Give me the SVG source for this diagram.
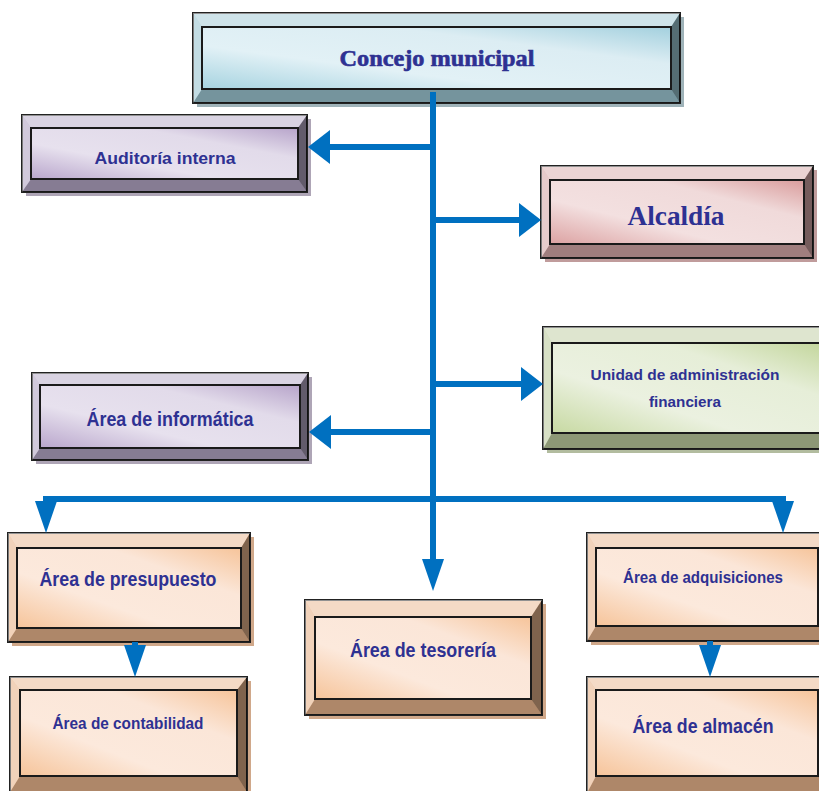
<svg xmlns="http://www.w3.org/2000/svg" width="819" height="791" viewBox="0 0 819 791">
<defs>
<linearGradient id="gBlue" x1="0" y1="1" x2="1" y2="0"><stop offset="0" stop-color="#a6d3e0"/><stop offset="0.35" stop-color="#e2f1f6"/><stop offset="0.7" stop-color="#dcedf3"/><stop offset="1" stop-color="#a3d0de"/></linearGradient>
<linearGradient id="gPurple" x1="0" y1="1" x2="1" y2="0"><stop offset="0" stop-color="#b9a6cc"/><stop offset="0.35" stop-color="#e7e1ee"/><stop offset="0.7" stop-color="#e2dbea"/><stop offset="1" stop-color="#b7a4ca"/></linearGradient>
<linearGradient id="gPink" x1="0" y1="1" x2="1" y2="0"><stop offset="0" stop-color="#dca2a2"/><stop offset="0.35" stop-color="#f3e0e0"/><stop offset="0.7" stop-color="#f0dada"/><stop offset="1" stop-color="#d99c9c"/></linearGradient>
<linearGradient id="gGreen" x1="0" y1="1" x2="1" y2="0"><stop offset="0" stop-color="#c7d9a2"/><stop offset="0.35" stop-color="#ebf1e0"/><stop offset="0.7" stop-color="#e6eed8"/><stop offset="1" stop-color="#c3d69c"/></linearGradient>
<linearGradient id="gPeach" x1="0" y1="1" x2="1" y2="0"><stop offset="0" stop-color="#f6c49a"/><stop offset="0.35" stop-color="#fce9dc"/><stop offset="0.7" stop-color="#fbe6d8"/><stop offset="1" stop-color="#f6c49a"/></linearGradient>
<marker id="arrH" markerUnits="userSpaceOnUse" markerWidth="22" markerHeight="34" refX="0" refY="17" orient="auto"><path d="M0,0 L22,17 L0,34 Z" fill="#0070c0"/></marker>
<marker id="arrV" markerUnits="userSpaceOnUse" markerWidth="32" markerHeight="22" refX="0" refY="11" orient="auto"><path d="M0,0 L32,11 L0,22 Z" fill="#0070c0"/></marker>
</defs>
<style>
.out{stroke:#222;stroke-width:2}
.pan{stroke:#1a1a1a;stroke-width:2}
.tb{fill:#fff;fill-opacity:.5}
.lb{fill:#fff;fill-opacity:.4}
.bb{fill:#000;fill-opacity:.25}
.rb{fill:#000;fill-opacity:.45}
.blue .out{fill:#9cc6d2}.blue .sh{fill:#9fb3b9}.blue .pan{fill:url(#gBlue)}
.purple .out{fill:#b3a6c4}.purple .sh{fill:#aea5b6}.purple .pan{fill:url(#gPurple)}
.pink .out{fill:#d6a8a8}.pink .sh{fill:#c09c9c}.pink .pan{fill:url(#gPink)}
.green .out{fill:#bccb9e}.green .sh{fill:#b2bc9f}.green .pan{fill:url(#gGreen)}
.peach .out{fill:#e8b48c}.peach .sh{fill:#d0a88a}.peach .pan{fill:url(#gPeach)}
.t{fill:#2e3192;font-family:"Liberation Sans",Arial,sans-serif;font-weight:bold;text-anchor:middle}
.ts{fill:#2e3192;font-family:"Liberation Serif","Times New Roman",serif;font-weight:bold;text-anchor:middle}
.con{fill:none;stroke:#0070c0;stroke-width:6;stroke-linejoin:miter}
</style>
<rect width="819" height="791" fill="#fff"/>

<g id="concejo" class="blue">
<rect class="sh" x="197" y="17" width="487" height="90"/>
<rect class="out" x="193" y="13" width="487" height="90"/>
<polygon class="tb" points="193,13 680,13 671,27 202,27"/>
<polygon class="bb" points="193,103 680,103 671,89 202,89"/>
<polygon class="lb" points="193,13 202,27 202,89 193,103"/>
<polygon class="rb" points="680,13 671,27 671,89 680,103"/>
<rect class="pan" x="202" y="27" width="469" height="62"/>
<text class="ts" x="437" y="66" font-size="23" textLength="195" lengthAdjust="spacingAndGlyphs" stroke="#2e3192" stroke-width="0.6">Concejo municipal</text>
</g>

<g id="auditoria" class="purple">
<rect class="sh" x="26" y="119" width="285" height="77"/>
<rect class="out" x="22" y="115" width="285" height="77"/>
<polygon class="tb" points="22,115 307,115 298,128 31,128"/>
<polygon class="bb" points="22,192 307,192 298,179 31,179"/>
<polygon class="lb" points="22,115 31,128 31,179 22,192"/>
<polygon class="rb" points="307,115 298,128 298,179 307,192"/>
<rect class="pan" x="31" y="128" width="267" height="51"/>
<text class="t" x="165" y="164" font-size="16" textLength="141" lengthAdjust="spacingAndGlyphs">Auditoría interna</text>
</g>

<g id="alcaldia" class="pink">
<rect class="sh" x="545" y="170" width="272" height="92"/>
<rect class="out" x="541" y="166" width="272" height="92"/>
<polygon class="tb" points="541,166 813,166 804,180 550,180"/>
<polygon class="bb" points="541,258 813,258 804,244 550,244"/>
<polygon class="lb" points="541,166 550,180 550,244 541,258"/>
<polygon class="rb" points="813,166 804,180 804,244 813,258"/>
<rect class="pan" x="550" y="180" width="254" height="64"/>
<text class="ts" x="676" y="225" font-size="28" textLength="97" lengthAdjust="spacingAndGlyphs">Alcaldía</text>
</g>

<g id="unidad" class="green">
<rect class="sh" x="547" y="331" width="290" height="122"/>
<rect class="out" x="543" y="327" width="290" height="122"/>
<polygon class="tb" points="543,327 833,327 824,343 552,343"/>
<polygon class="bb" points="543,449 833,449 824,433 552,433"/>
<polygon class="lb" points="543,327 552,343 552,433 543,449"/>
<polygon class="rb" points="833,327 824,343 824,433 833,449"/>
<rect class="pan" x="552" y="343" width="272" height="90"/>
<text class="t" x="685" y="380" font-size="15" textLength="189" lengthAdjust="spacingAndGlyphs">Unidad de administración</text>
<text class="t" x="685" y="407" font-size="15" textLength="72" lengthAdjust="spacingAndGlyphs">financiera</text>
</g>

<g id="informatica" class="purple">
<rect class="sh" x="36" y="377" width="276" height="87"/>
<rect class="out" x="32" y="373" width="276" height="87"/>
<polygon class="tb" points="32,373 308,373 300,385 40,385"/>
<polygon class="bb" points="32,460 308,460 300,448 40,448"/>
<polygon class="lb" points="32,373 40,385 40,448 32,460"/>
<polygon class="rb" points="308,373 300,385 300,448 308,460"/>
<rect class="pan" x="40" y="385" width="260" height="63"/>
<text class="t" x="170" y="426" font-size="20" textLength="167" lengthAdjust="spacingAndGlyphs">Área de informática</text>
</g>

<g id="presupuesto" class="peach">
<rect class="sh" x="12" y="537" width="242" height="109"/>
<rect class="out" x="8" y="533" width="242" height="109"/>
<polygon class="tb" points="8,533 250,533 241,548 17,548"/>
<polygon class="bb" points="8,642 250,642 241,628 17,628"/>
<polygon class="lb" points="8,533 17,548 17,628 8,642"/>
<polygon class="rb" points="250,533 241,548 241,628 250,642"/>
<rect class="pan" x="17" y="548" width="224" height="80"/>
<text class="t" x="128" y="586" font-size="20" textLength="177" lengthAdjust="spacingAndGlyphs">Área de presupuesto</text>
</g>

<g id="contabilidad" class="peach">
<rect class="sh" x="14" y="681" width="237" height="115"/>
<rect class="out" x="10" y="677" width="237" height="115"/>
<polygon class="tb" points="10,677 247,677 237,690 20,690"/>
<polygon class="bb" points="10,792 247,792 237,776 20,776"/>
<polygon class="lb" points="10,677 20,690 20,776 10,792"/>
<polygon class="rb" points="247,677 237,690 237,776 247,792"/>
<rect class="pan" x="20" y="690" width="217" height="86"/>
<text class="t" x="128" y="729" font-size="17" textLength="151" lengthAdjust="spacingAndGlyphs">Área de contabilidad</text>
</g>

<g id="tesoreria" class="peach">
<rect class="sh" x="309" y="604" width="237" height="115"/>
<rect class="out" x="305" y="600" width="237" height="115"/>
<polygon class="tb" points="305,600 542,600 531,617 315,617"/>
<polygon class="bb" points="305,715 542,715 531,699 315,699"/>
<polygon class="lb" points="305,600 315,617 315,699 305,715"/>
<polygon class="rb" points="542,600 531,617 531,699 542,715"/>
<rect class="pan" x="315" y="617" width="216" height="82"/>
<text class="t" x="423" y="657" font-size="20" textLength="146" lengthAdjust="spacingAndGlyphs">Área de tesorería</text>
</g>

<g id="adquisiciones" class="peach">
<rect class="sh" x="591" y="537" width="240" height="108"/>
<rect class="out" x="587" y="533" width="240" height="108"/>
<polygon class="tb" points="587,533 827,533 818,548 596,548"/>
<polygon class="bb" points="587,641 827,641 818,626 596,626"/>
<polygon class="lb" points="587,533 596,548 596,626 587,641"/>
<polygon class="rb" points="827,533 818,548 818,626 827,641"/>
<rect class="pan" x="596" y="548" width="222" height="78"/>
<text class="t" x="703" y="583" font-size="16" textLength="160" lengthAdjust="spacingAndGlyphs">Área de adquisiciones</text>
</g>

<g id="almacen" class="peach">
<rect class="sh" x="591" y="681" width="240" height="116"/>
<rect class="out" x="587" y="677" width="240" height="116"/>
<polygon class="tb" points="587,677 827,677 818,690 596,690"/>
<polygon class="bb" points="587,793 827,793 818,776 596,776"/>
<polygon class="lb" points="587,677 596,690 596,776 587,793"/>
<polygon class="rb" points="827,677 818,690 818,776 827,793"/>
<rect class="pan" x="596" y="690" width="222" height="86"/>
<text class="t" x="703" y="733" font-size="20" textLength="141" lengthAdjust="spacingAndGlyphs">Área de almacén</text>
</g>

<g id="connectors">
<path class="con" d="M433,92 V559" marker-end="url(#arrV)"/>
<path class="con" d="M433,147 H330" marker-end="url(#arrH)"/>
<path class="con" d="M433,220 H519" marker-end="url(#arrH)"/>
<path class="con" d="M433,384 H521" marker-end="url(#arrH)"/>
<path class="con" d="M433,432 H331" marker-end="url(#arrH)"/>
<path class="con" d="M433,499 H46 V501" marker-end="url(#arrV)"/>
<path class="con" d="M433,499 H783 V501" marker-end="url(#arrV)"/>
<path class="con" d="M135,642 V645" marker-end="url(#arrV)"/>
<path class="con" d="M710,641 V645" marker-end="url(#arrV)"/>
</g>
</svg>
